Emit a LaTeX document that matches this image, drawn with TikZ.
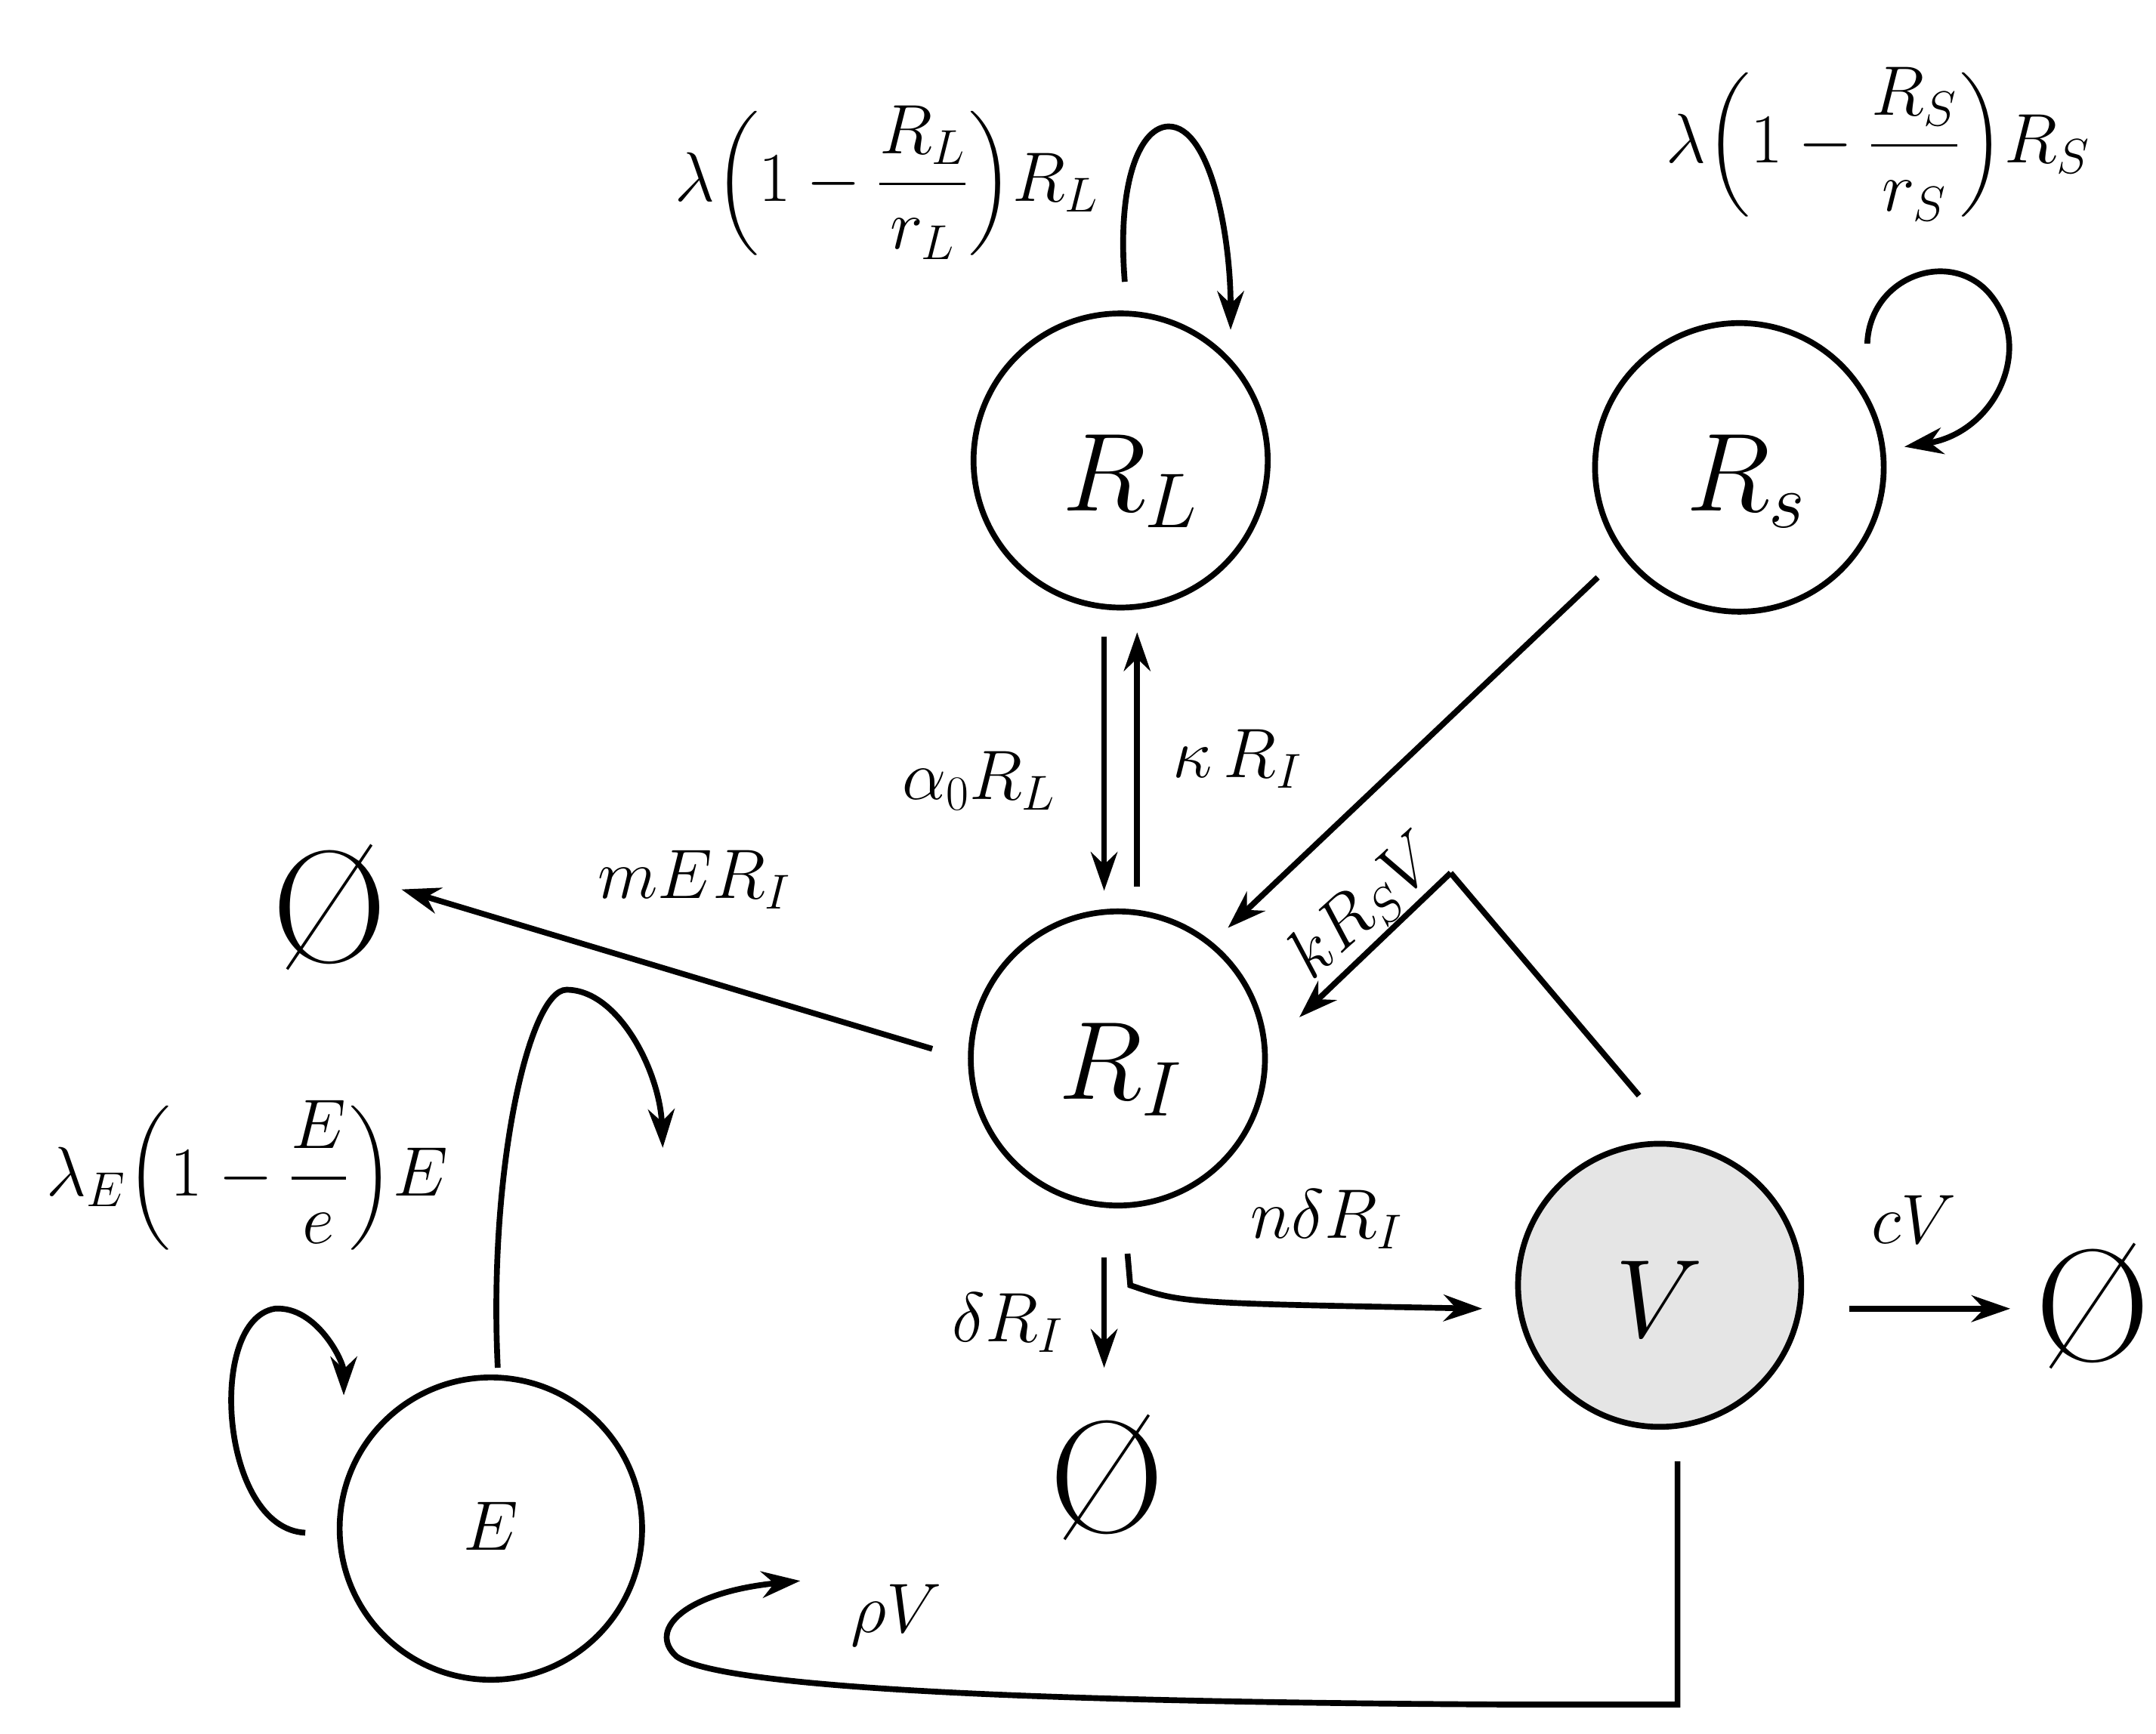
\RequirePackage{fix-cm}
\documentclass[tikz,border=0pt]{standalone}
\usepackage{amsmath}
\usepackage{fontspec}
\usetikzlibrary{arrows.meta}
\begin{document}
\begin{tikzpicture}[x=0.02cm,y=-0.02cm,
  st/.style={circle,draw,line width=2.4pt,inner sep=0pt},
  ln/.style={line width=2.4pt},
  ar/.style={line width=2.4pt,-{Stealth[length=16pt,width=11pt]}},
  lb/.style={font=\fontsize{29}{33}\selectfont},
  big/.style={font=\fontsize{46}{50}\selectfont},
  nul/.style={font=\fontsize{66}{70}\selectfont}]
\useasboundingbox (0,0) rectangle (1568,1261);
\node[st,minimum size=4.28cm] (RL) at (815,335) {};
\node[big] at (822,350) {$R_L$};
\node[st,minimum size=4.2cm] (RS) at (1265,340) {};
\node[big] at (1270,350) {$R_s$};
\node[st,minimum size=4.28cm] (RI) at (813,770) {};
\node[big] at (815,778) {$R_I$};
\node[st,minimum size=4.12cm,fill=black!10] (V) at (1207,935) {};
\node[big] at (1207,945) {$V$};
\node[st,minimum size=4.4cm] (E) at (357,1112) {};
\node[lb] at (357,1110) {$E$};
\node[nul] (n1) at (240,660) {Ø};
\node[nul] (n2) at (805,1075) {Ø};
\node[nul] (n3) at (1522,950) {Ø};
\coordinate (a1) at (803,463); \coordinate (a2) at (803,648);
\coordinate (b1) at (827,645); \coordinate (b2) at (827,460);
\draw[ar] (a1) -- (a2);
\draw[ar] (b1) -- (b2);
\node[lb] at (712,568) {$\alpha_0 R_L$};
\node[lb] at (900,552) {$\kappa\, R_I$};
\coordinate (s1) at (1162,420); \coordinate (s2) at (893,675);
\draw[ar] (s1) -- (s2);
\coordinate (v1) at (1192,797); \coordinate (v2) at (1055,635); \coordinate (v3) at (945,740);
\draw[ln] (v1) -- (v2);
\draw[ar] (v2) -- (v3);
\node[lb,rotate=42] at (993,660) {$kR_SV$};
\coordinate (m1) at (678,763); \coordinate (m2) at (292,647);
\draw[ar] (m1) -- (m2);
\node[lb] at (505,640) {$mER_I$};
\coordinate (d1) at (803,915); \coordinate (d2) at (803,995);
\draw[ar] (d1) -- (d2);
\node[lb] at (733,962) {$\delta R_I$};
\coordinate (p1) at (820,912); \coordinate (p2) at (1078,952);
\draw[ar] (p1) -- (822,935) .. controls (860,948) .. (p2);
\node[lb] at (965,887) {$n\delta R_I$};
\coordinate (c1) at (1345,952); \coordinate (c2) at (1462,952);
\draw[ar] (c1) -- (c2);
\node[lb] at (1392,887) {$cV$};
\coordinate (r1) at (1220,1063); \coordinate (r2) at (582,1150);
\draw[ar] (r1) -- (1220,1240) -- (1100,1240) .. controls (700,1238) and (520,1225) .. (492,1205) .. controls (470,1185) and (500,1158) .. (r2);
\node[lb] at (652,1175) {$\rho V$};
\coordinate (e1) at (362,995); \coordinate (e2) at (482,835);
\draw[ar] (e1) .. controls (355,850) and (385,720) .. (412,720) .. controls (450,720) and (480,780) .. (e2);
\coordinate (f1) at (222,1115); \coordinate (f2) at (250,1015);
\draw[ar] (f1) .. controls (160,1112) and (150,960) .. (200,952) .. controls (230,950) and (250,990) .. (f2);
\node[lb] at (180,855) {$\lambda_E\!\left(1-\dfrac{E}{e}\right)\!E$};
\coordinate (g1) at (818,205); \coordinate (g2) at (895,240);
\draw[ar] (g1) .. controls (812,130) and (830,92) .. (850,92) .. controls (880,92) and (895,170) .. (g2);
\node[lb] at (645,133) {$\lambda\!\left(1-\dfrac{R_L}{r_L}\right)\!R_L$};
\coordinate (h1) at (1358,250); \coordinate (h2) at (1385,325);
\draw[ar] (h1) .. controls (1360,200) and (1420,180) .. (1448,215) .. controls (1480,255) and (1450,315) .. (h2);
\node[lb] at (1366,105) {$\lambda\!\left(1-\dfrac{R_S}{r_S}\right)\!R_S$};
\end{tikzpicture}
\end{document}
